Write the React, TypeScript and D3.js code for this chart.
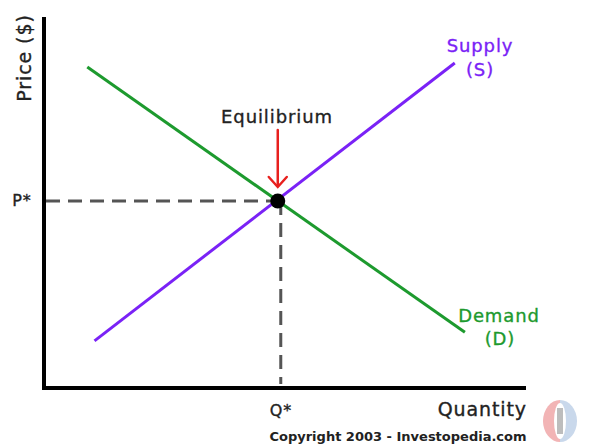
import React from "react";
import * as d3 from "d3";

// curve endpoints in chart units (quantity 0-100, price 0-100)
const demand = [
  { q: 9, p: 86.5 },
  { q: 87.5, p: 15 },
];
const supply = [
  { q: 10.5, p: 12.7 },
  { q: 85.4, p: 87.6 },
];
const equilibrium = { q: 48.6, p: 50.4 };

const width = 589;
const height = 445;

const App = () => {
  const x = d3.scaleLinear().domain([0, 100]).range([44, 525]);
  const y = d3.scaleLinear().domain([0, 100]).range([388, 17]);

  const line = d3
    .line<{ q: number; p: number }>()
    .x((d) => x(d.q))
    .y((d) => y(d.p));

  const ex = x(equilibrium.q);
  const ey = y(equilibrium.p);
  const font = "'DejaVu Sans', Verdana, sans-serif";
  const lbl = { fontSize: 18, letterSpacing: 0.9, strokeWidth: 0.35 };

  return (
    <svg
      width={width}
      height={height}
      style={{ position: "absolute", left: 0, top: 0, background: "#fff" }}
      fontFamily={font}
    >
      {/* dashed guides */}
      <line
        x1={x(0) + 2}
        x2={ex}
        y1={ey}
        y2={ey}
        stroke="#555"
        strokeWidth={3}
        strokeDasharray="14,8"
      />
      <line
        x1={ex + 3}
        x2={ex + 3}
        y1={ey}
        y2={y(0) - 4}
        stroke="#555"
        strokeWidth={3}
        strokeDasharray="14,8"
      />

      {/* curves */}
      <path d={line(demand) || ""} fill="none" stroke="#1d9a2e" strokeWidth={3} />
      <path d={line(supply) || ""} fill="none" stroke="#7a22f6" strokeWidth={3} />

      <circle cx={ex} cy={ey} r={7.5} fill="#000" />

      {/* axes */}
      <path
        d={`M${x(0)},${y(100)} L${x(0)},${y(0)} L${x(100) + 1},${y(0)}`}
        fill="none"
        stroke="#000"
        strokeWidth={4}
      />

      {/* equilibrium label + arrow */}
      <text x={277} y={123} textAnchor="middle" {...lbl} fill="#222" stroke="#222">
        Equilibrium
      </text>
      <g stroke="#e8201e" strokeWidth={2.5} fill="none" strokeLinecap="round">
        <line x1={ex} x2={ex} y1={130} y2={186} />
        <path d={`M${ex - 9},${177} L${ex},${187} L${ex + 9},${177}`} />
      </g>

      {/* axis labels */}
      <text
        transform="translate(31,58) rotate(-90)"
        textAnchor="middle"
        {...lbl}
        fontSize={19}
        fill="#222"
        stroke="#222"
      >
        Price ($)
      </text>
      <text x={22} y={206} textAnchor="middle" {...lbl} fontSize={16} fill="#222" stroke="#222">
        P*
      </text>
      <text x={281} y={416} textAnchor="middle" {...lbl} fontSize={16} fill="#222" stroke="#222">
        Q*
      </text>
      <text x={527} y={416} textAnchor="end" {...lbl} fontSize={19} fill="#222" stroke="#222">
        Quantity
      </text>

      {/* curve labels */}
      <text x={480} y={52} textAnchor="middle" {...lbl} fill="#7a22f6" stroke="#7a22f6">
        Supply
      </text>
      <text x={480} y={76} textAnchor="middle" {...lbl} fill="#7a22f6" stroke="#7a22f6">
        (S)
      </text>
      <text x={499} y={322} textAnchor="middle" {...lbl} fill="#1d9a2e" stroke="#1d9a2e">
        Demand
      </text>
      <text x={500} y={345} textAnchor="middle" {...lbl} fill="#1d9a2e" stroke="#1d9a2e">
        (D)
      </text>

      <text x={398} y={441} textAnchor="middle" fontSize={13} fontWeight="bold" fill="#222">
        Copyright 2003 - Investopedia.com
      </text>

      {/* logo */}
      <g opacity={0.55}>
        <path d="M560,400 A17,21 0 0 0 560,442 Z" fill="#e8777a" />
        <path d="M560,400 A17,21 0 0 1 560,442 Z" fill="#9db9dc" />
        <ellipse cx={560} cy={421} rx={6} ry={18} fill="#fff" />
        <rect x={557} y={408} width={6} height={26} fill="#888" />
      </g>
    </svg>
  );
};

export default App;
